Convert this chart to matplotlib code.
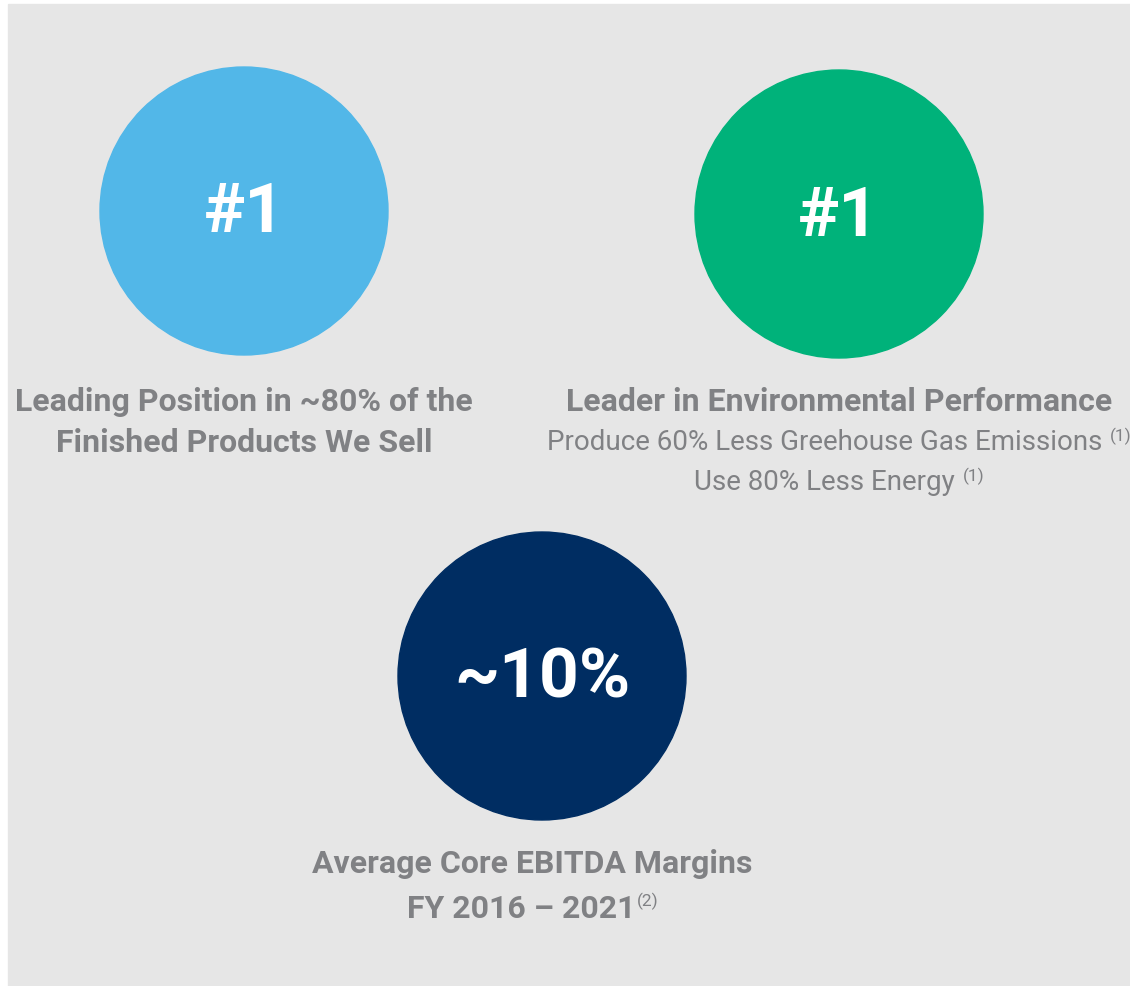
import matplotlib
matplotlib.use("Agg")
import matplotlib.pyplot as plt
from matplotlib.patches import Circle, Rectangle

plt.rcParams['font.family'] = ['Roboto', 'DejaVu Sans']

# data
big_values = ["#1", "#1", "~10%"]
circle_colors = ["#52B7E8", "#00B27A", "#002D62"]
titles = [
    ["Leading Position in ~80% of the", "Finished Products We Sell"],
    ["Leader in Environmental Performance"],
    ["Average Core EBITDA Margins", "FY 2016 \u2013 2021"],
]
title_notes = [[None, None], [None], [None, "(2)"]]
sub_lines = [
    [],
    ["Produce 60% Less Greehouse Gas Emissions ", "Use 80% Less Energy "],
    [],
]
sub_notes = [[], ["(1)", "(1)"], []]

# layout in pixel coords
centers = [(244, 211), (839, 214), (542, 676)]
radius = 144
title_y = [402, 402, 864]
text_x = [244, 839, 532]

W, H = 1130, 986
fig = plt.figure(figsize=(W / 100, H / 100), dpi=100)
ax = fig.add_axes([0, 0, 1, 1])
ax.set_xlim(0, W)
ax.set_ylim(H, 0)
ax.axis("off")

ax.add_patch(Rectangle((8, 4), W, H, color="#E6E6E6", zorder=0))

gray = "#808184"
fig.canvas.draw()
renderer = fig.canvas.get_renderer()
inv = ax.transData.inverted()


def width_of(t):
    bb = t.get_window_extent(renderer).transformed(inv)
    return abs(bb.x1 - bb.x0)


def line_with_note(x, y, line, note, size, weight):
    # centre the line together with its footnote marker
    t = ax.text(x, y, line, fontsize=size, fontweight=weight, color=gray,
                ha="left", va="center")
    if note is None:
        t.set_ha("center")
        return
    n = ax.text(x, y - size * 0.33, note, fontsize=12.5, color=gray,
                ha="left", va="center")
    wt, wn = width_of(t), width_of(n)
    x0 = x - (wt + wn) / 2
    t.set_x(x0)
    n.set_x(x0 + wt + 1)


for i in range(3):
    cx, cy = centers[i]
    ax.add_patch(Circle((cx, cy), radius, color=circle_colors[i], zorder=1))
    ax.text(cx, cy + 3, big_values[i], fontsize=50, fontweight="bold",
            color="white", ha="center", va="center", zorder=2)

    y = title_y[i]
    step = 41 if i == 0 else 45
    for j, line in enumerate(titles[i]):
        line_with_note(text_x[i], y + j * step, line, title_notes[i][j],
                       23, "bold")

    for j, line in enumerate(sub_lines[i]):
        line_with_note(text_x[i], y + 41 + j * 40, line, sub_notes[i][j],
                       20, "normal")

fig.savefig("out.png", dpi=100, facecolor="white")
